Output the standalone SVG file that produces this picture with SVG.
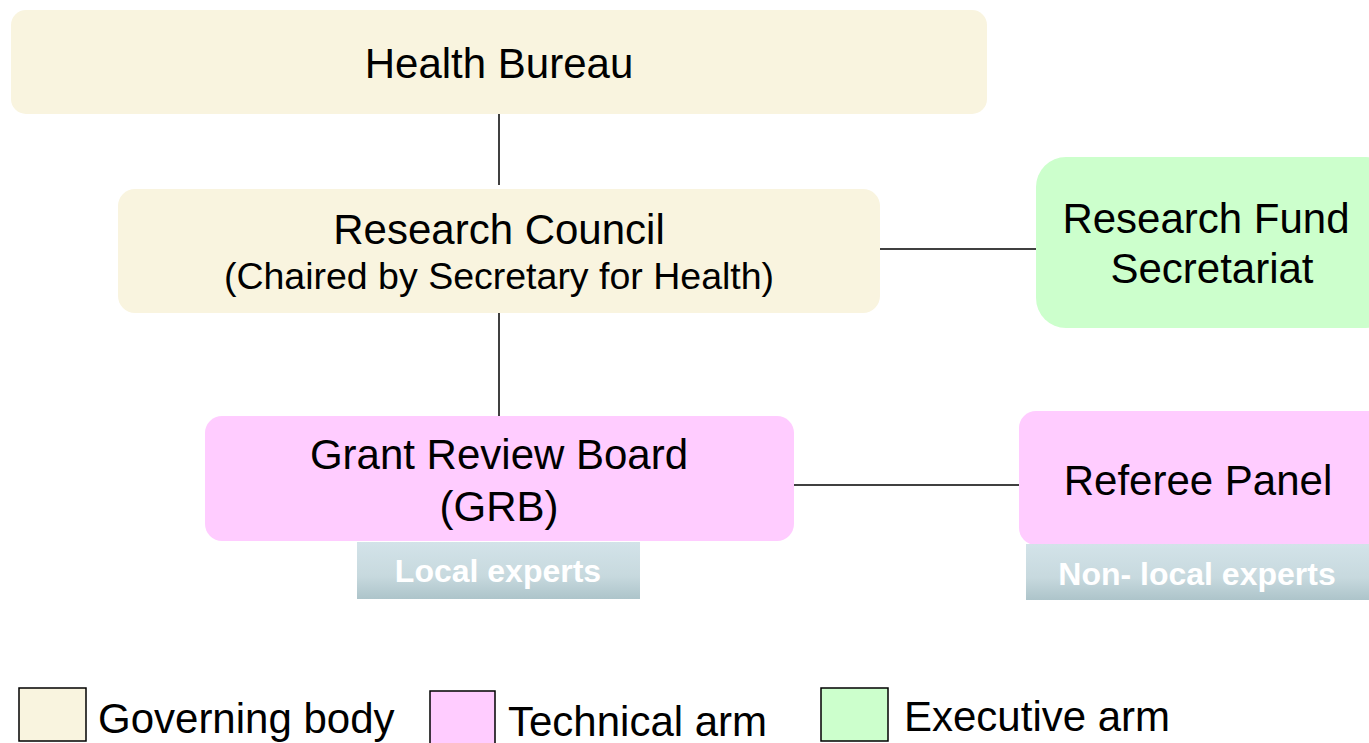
<svg xmlns="http://www.w3.org/2000/svg" width="1369" height="743" viewBox="0 0 1369 743">
<defs>
<linearGradient id="tag" x1="0" y1="0" x2="0" y2="1">
<stop offset="0" stop-color="#D3E3E9"/>
<stop offset="0.6" stop-color="#C7D9DE"/>
<stop offset="1" stop-color="#ADC4CA"/>
</linearGradient>
<style>
.gov{fill:#F9F4DF}
.tech{fill:#FFCCFF}
.exec{fill:#CCFFCC}
.t{font-family:"Liberation Sans",Arial,sans-serif;fill:#000;text-anchor:middle;font-size:42px}
.sub{font-size:37.5px}
.tag{font-family:"Liberation Sans",Arial,sans-serif;font-weight:bold;fill:#FFFFFF;text-anchor:middle;font-size:32px}
.lg{font-family:"Liberation Sans",Arial,sans-serif;fill:#000;font-size:42px}
.conn{stroke:#000;stroke-width:1.5;fill:none}
</style>
</defs>
<rect width="1369" height="743" fill="#FFFFFF"/>
<g id="connectors">
<line class="conn" x1="499" y1="114" x2="499" y2="185"/>
<line class="conn" x1="499" y1="313" x2="499" y2="416"/>
<line class="conn" x1="876" y1="249" x2="1036" y2="249"/>
<line class="conn" x1="792" y1="485" x2="1019" y2="485"/>
</g>
<g id="health-bureau">
<rect class="gov" x="11" y="10" width="976" height="104" rx="15"/>
<text class="t" x="499" y="78">Health Bureau</text>
</g>
<g id="research-council">
<rect class="gov" x="118" y="189" width="762" height="124" rx="17"/>
<text class="t" x="499" y="244">Research Council</text>
<text class="t sub" x="499" y="289">(Chaired by Secretary for Health)</text>
</g>
<g id="research-fund-secretariat">
<rect class="exec" x="1036" y="157" width="360" height="171" rx="30"/>
<text class="t" x="1206" y="233">Research Fund</text>
<text class="t" x="1212" y="283">Secretariat</text>
</g>
<g id="grant-review-board">
<rect class="tech" x="205" y="416" width="589" height="125" rx="17"/>
<text class="t" x="499" y="469">Grant Review Board</text>
<text class="t" x="499" y="521">(GRB)</text>
<rect x="357" y="542" width="283" height="57" fill="url(#tag)"/>
<text class="tag" x="498" y="582">Local experts</text>
</g>
<g id="referee-panel">
<rect class="tech" x="1019" y="411" width="380" height="134" rx="17"/>
<text class="t" x="1198" y="495">Referee Panel</text>
<rect x="1026" y="544" width="343" height="56" fill="url(#tag)"/>
<text class="tag" x="1197" y="585">Non- local experts</text>
</g>
<g id="legend">
<rect class="gov" x="19" y="688" width="67" height="53" stroke="#000" stroke-width="1.5"/>
<text class="lg" x="98" y="733">Governing body</text>
<rect class="tech" x="430" y="691" width="65" height="54" stroke="#000" stroke-width="1.5"/>
<text class="lg" x="508" y="736">Technical arm</text>
<rect class="exec" x="821" y="688" width="67" height="53" stroke="#000" stroke-width="1.5"/>
<text class="lg" x="904" y="731">Executive arm</text>
</g>
</svg>
